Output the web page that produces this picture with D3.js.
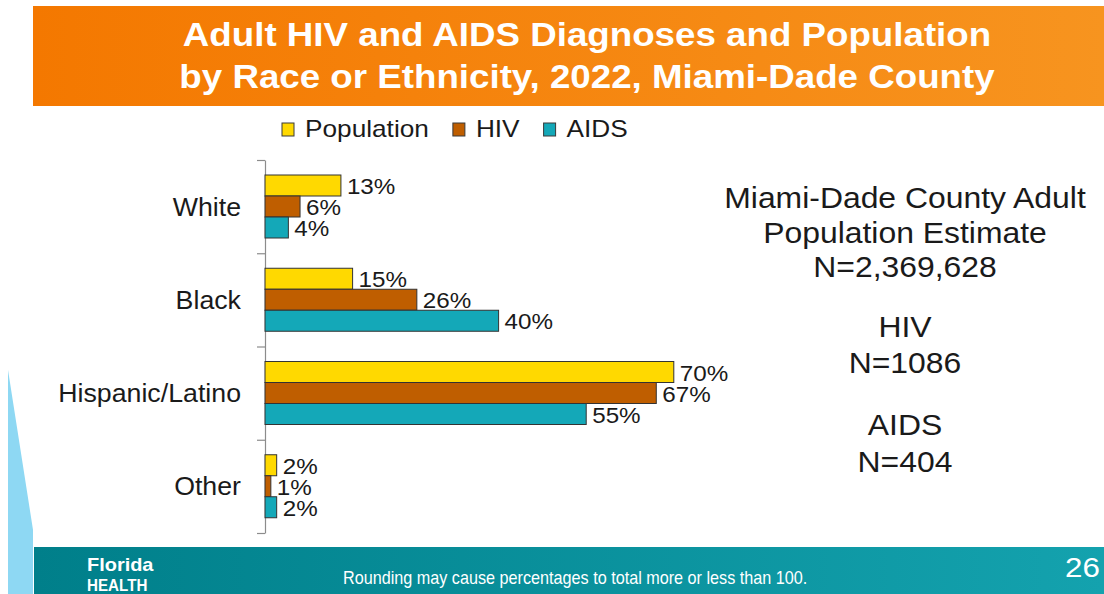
<!DOCTYPE html>
<html>
<head>
<meta charset="utf-8">
<script src="https://cdn.jsdelivr.net/npm/d3@7"></script>
<style>
  body { margin: 0; background: #fff; }
  svg { display: block; font-family: "Liberation Sans", Arial, sans-serif; }
</style>
</head>
<body>
<script>
// data
const categories = ["White", "Black", "Hispanic/Latino", "Other"]
const seriesNames = ["Population", "HIV", "AIDS"]
const population = [13, 15, 70, 2]
const hiv = [6, 26, 67, 1]
const aids = [4, 40, 55, 2]

const titleLines = ["Adult HIV and AIDS Diagnoses and Population", "by Race or Ethnicity, 2022, Miami-Dade County"]
const infoLines = ["Miami-Dade County Adult", "Population Estimate", "N=2,369,628", "HIV", "N=1086", "AIDS", "N=404"]
const footNote = "Rounding may cause percentages to total more or less than 100."
const pageNumber = "26"

const W = 1104, H = 594

const svg = d3.select("body").append("svg")
  .attr("width", W)
  .attr("height", H)

// text helper - slide text is a bit stretched sideways
function txt(g, x, y, str, size, sx, anchor) {
  return g.append("text")
    .attr("transform", "translate(" + x + "," + y + ") scale(" + sx + ",1)")
    .attr("font-size", size)
    .attr("text-anchor", anchor || "start")
    .text(str)
}

const defs = svg.append("defs")
const og = defs.append("linearGradient").attr("id", "orange").attr("x1", 0).attr("x2", 1)
og.append("stop").attr("offset", "0%").attr("stop-color", "#f47800")
og.append("stop").attr("offset", "100%").attr("stop-color", "#f7941f")
const tg = defs.append("linearGradient").attr("id", "teal").attr("x1", 0).attr("x2", 1)
tg.append("stop").attr("offset", "0%").attr("stop-color", "#007f8a")
tg.append("stop").attr("offset", "100%").attr("stop-color", "#14a2ae")

// left light blue sliver
svg.append("path")
  .attr("d", "M8,370 L33,530 L33,594 L8,594 Z")
  .attr("fill", "#8ed8f3")

// title banner
svg.append("rect").attr("x", 33).attr("y", 6).attr("width", W - 33).attr("height", 100)
  .attr("fill", "url(#orange)")
const title = svg.append("g").attr("fill", "#fff").attr("font-weight", "bold")
titleLines.forEach(function(t, i) {
  txt(title, 587, 46 + i * 42, t, 34, 1.08, "middle")
})

// footer
svg.append("rect").attr("x", 34).attr("y", 547).attr("width", W - 34).attr("height", H - 547)
  .attr("fill", "url(#teal)")
const foot = svg.append("g").attr("fill", "#fff")
txt(foot, 87, 571, "Florida", 19, 1.05).attr("font-weight", "bold")
txt(foot, 87, 591, "HEALTH", 16, 0.95).attr("font-weight", "bold")
txt(foot, 343, 584, footNote, 18, 0.9)
txt(foot, 1100, 577, pageNumber, 28, 1.12, "end")

// chart
const x = d3.scaleLinear().domain([0, 100]).range([265, 849])
const y0 = d3.scaleBand().domain(categories).range([160, 533])
const y1 = d3.scaleBand().domain(seriesNames).range([15, 78])
const color = d3.scaleOrdinal().domain(seriesNames).range(["#ffd900", "#bf5e00", "#14a8b8"])

const rows = categories.map(function(c, i) {
  return { cat: c, vals: [population[i], hiv[i], aids[i]] }
})

// axis with ticks on the category boundaries
const bound = d3.scaleLinear().domain([0, categories.length]).range([y0.range()[1], y0.range()[0]])
const ax = svg.append("g")
  .attr("transform", "translate(" + x(0) + ",0)")
  .call(d3.axisLeft(bound).ticks(categories.length).tickFormat("").tickSize(8).tickSizeOuter(0))
ax.selectAll("path, line").attr("stroke", "#8c8c8c").attr("stroke-width", 1.2)

const groups = svg.selectAll(".grp")
  .data(rows).enter()
  .append("g")
  .attr("transform", function(d) { return "translate(0," + y0(d.cat) + ")" })

groups.selectAll("rect")
  .data(function(d) { return d.vals.map(function(v, j) { return { s: seriesNames[j], v: v } }) })
  .enter().append("rect")
  .attr("x", x(0))
  .attr("y", function(d) { return y1(d.s) })
  .attr("width", function(d) { return x(d.v) - x(0) })
  .attr("height", y1.bandwidth())
  .attr("fill", function(d) { return color(d.s) })
  .attr("stroke", "#333")
  .attr("stroke-width", 1)

groups.each(function(d) {
  const g = d3.select(this)
  d.vals.forEach(function(v, j) {
    txt(g, x(v) + 6, y1(seriesNames[j]) + y1.bandwidth() / 2 + 8.5, v + "%", 22, 1.1)
      .attr("fill", "#1a1a1a")
  })
  txt(g, 241, y0.bandwidth() / 2 + 9, d.cat, 25, 1.07, "end").attr("fill", "#1a1a1a")
})

// legend
const leg = svg.append("g")
let lx = 282
seriesNames.forEach(function(s) {
  leg.append("rect").attr("x", lx).attr("y", 123).attr("width", 12).attr("height", 13)
    .attr("fill", color(s)).attr("stroke", "#3a3a3a").attr("stroke-width", 1)
  const t = txt(leg, lx + 23, 137, s, 23, 1.14).attr("fill", "#1a1a1a")
  lx = lx + 23 + t.node().getComputedTextLength() * 1.14 + 24
})

// population info on the right
const info = svg.append("g").attr("fill", "#1a1a1a")
const infoY = [208, 243, 277, 337, 373, 435, 472]
infoLines.forEach(function(t, i) {
  txt(info, 905, infoY[i], t, 29, 1.1, "middle")
})
</script>
</body>
</html>
